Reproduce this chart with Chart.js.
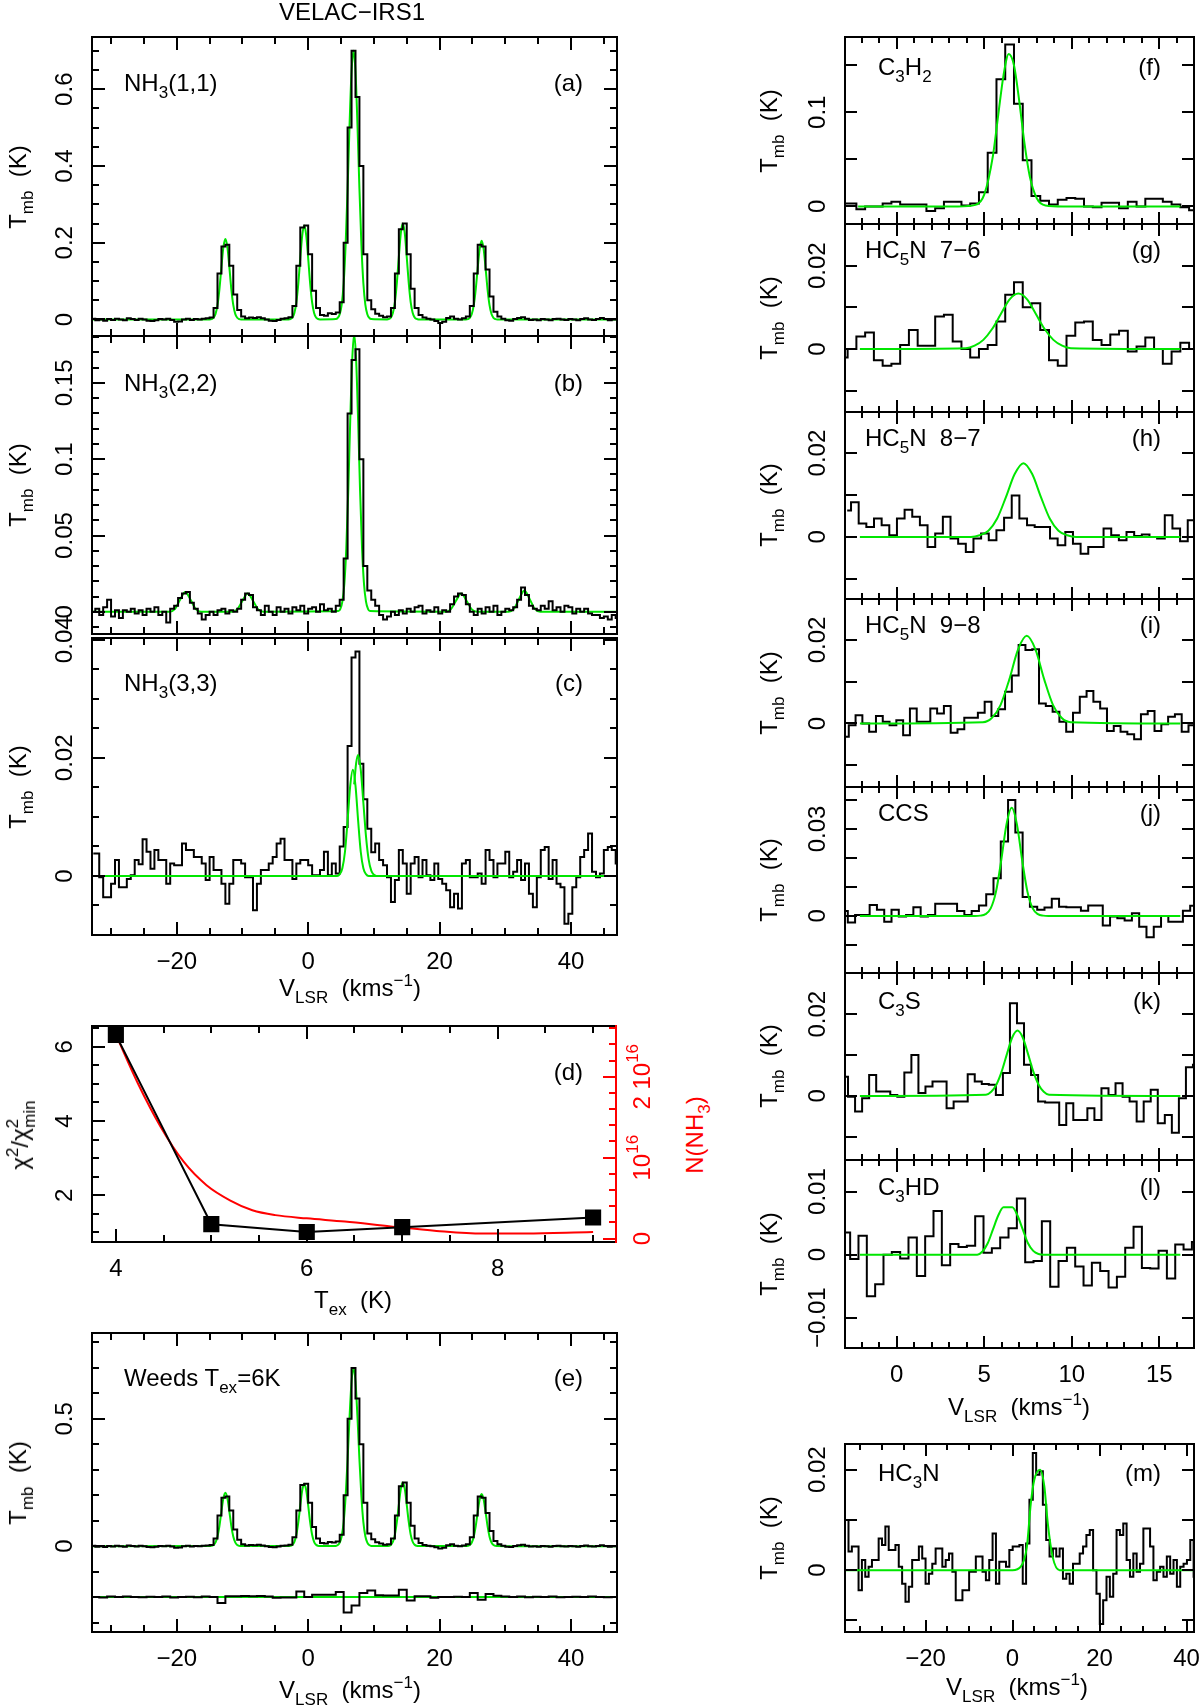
<!DOCTYPE html>
<html><head><meta charset="utf-8">
<script src="https://cdn.jsdelivr.net/npm/chart.js@4.4.1/dist/chart.umd.min.js"></script>
<style>
html,body{margin:0;padding:0;background:#fff;overflow:hidden}
#wrap{position:relative;width:1200px;height:1705px;background:#fff;overflow:hidden}
canvas{position:absolute}
.t{position:absolute;font:24px "Liberation Sans",Arial,sans-serif;line-height:24px;white-space:nowrap;color:#000}
.t sub{font-size:17px;position:relative;top:7px;vertical-align:baseline;line-height:0}
.t sup{font-size:17px;position:relative;top:-10px;vertical-align:baseline;line-height:0}
.L{transform:translate(0,-50%)}
.R{transform:translate(-100%,-50%)}
.C{transform:translate(-50%,-50%)}
.V{transform:translate(-50%,-50%) rotate(-90deg)}
</style></head><body>
<div id="wrap"></div>
<script>
// ---------------- DATA ----------------
// NH3 spectra: channel centres start at NH3_V0 with spacing NH3_DV (km/s)
const NH3_V0 = -32.7, NH3_DV = 0.6;
const nh3_11 = [
0.002,-0.002,0.000,-0.003,0.001,-0.001,0.002,0.000,-0.002,0.003,
0.001,-0.001,0.002,0.000,-0.003,-0.004,-0.002,0.001,0.000,0.002,
-0.001,-0.006,-0.005,0.000,0.002,-0.001,0.001,0.000,0.002,0.003,
0.005,0.030,0.120,0.190,0.195,0.140,0.065,0.025,0.008,0.003,
0.005,0.004,0.006,0.003,0.000,-0.003,-0.004,-0.001,0.002,0.003,
0.006,0.035,0.140,0.240,0.245,0.170,0.075,0.030,0.012,0.010,
0.016,0.014,0.018,0.045,0.200,0.500,0.700,0.580,0.400,0.170,
0.050,0.027,0.015,0.010,0.006,0.008,0.030,0.120,0.235,0.250,
0.170,0.080,0.030,0.012,0.005,0.002,0.000,-0.004,-0.009,-0.006,
0.004,0.008,0.002,0.000,0.003,0.008,0.035,0.120,0.195,0.190,
0.130,0.060,0.020,0.008,0.002,-0.002,-0.003,0.001,0.004,0.006,
0.002,-0.001,0.000,-0.002,0.001,0.000,-0.002,0.001,0.002,0.000,
-0.001,0.001,0.000,-0.002,0.001,0.003,0.000,-0.001,0.001,0.004,
0.001,-0.002,0.000,0.001];
const nh3_11_modelV = [-32.9,
-15.0,-14.7,-14.4,-14.1,-13.8,-13.5,-13.2,-12.9,-12.6,-12.3,-12.0,-11.7,-11.4,-11.1,-10.8,-10.5,-10.2,
-3.0,-2.7,-2.4,-2.1,-1.8,-1.5,-1.2,-0.9,-0.6,-0.3,0.0,0.3,0.6,0.9,1.2,1.5,1.8,
4.2,4.5,4.8,5.1,5.4,5.7,6.0,6.3,6.6,6.9,7.2,7.5,7.8,8.1,8.4,8.7,9.0,9.3,9.6,
12.0,12.3,12.6,12.9,13.2,13.5,13.8,14.1,14.4,14.7,15.0,15.3,15.6,15.9,16.2,16.5,16.8,
24.0,24.3,24.6,24.9,25.2,25.5,25.8,26.1,26.4,26.7,27.0,27.3,27.6,27.9,28.2,28.5,28.8,47.0];
const nh3_11_modelT = [0,
0.0002,0.0011,0.0045,0.0146,0.038,0.080,0.137,0.189,0.21,0.189,0.137,0.080,0.038,0.0146,0.0045,0.0011,0.0002,
0.0003,0.0013,0.0053,0.0171,0.0446,0.094,0.160,0.220,0.245,0.220,0.160,0.094,0.0446,0.0171,0.0053,0.0013,0.0003,
0.0011,0.0042,0.0139,0.039,0.0945,0.195,0.341,0.508,0.646,0.700,0.646,0.508,0.341,0.195,0.0945,0.039,0.0139,0.0042,0.0011,
0.0003,0.0014,0.0054,0.0174,0.0455,0.096,0.163,0.225,0.250,0.225,0.163,0.096,0.0455,0.0174,0.0054,0.0014,0.0003,
0.0002,0.0011,0.0044,0.0143,0.0373,0.0785,0.134,0.184,0.205,0.184,0.134,0.0785,0.0373,0.0143,0.0044,0.0011,0.0002,0];

const nh3_22 = [
0.000,0.002,-0.002,0.003,0.008,-0.003,0.001,-0.004,0.001,0.000,
0.002,-0.001,0.001,-0.002,0.002,0.000,0.003,-0.002,0.000,-0.007,
0.002,0.004,0.009,0.012,0.013,0.006,0.002,-0.001,-0.005,-0.002,
0.000,-0.002,0.001,0.002,-0.001,0.001,0.000,0.002,0.008,0.012,
0.011,0.003,0.001,-0.002,0.004,0.000,-0.002,0.003,0.000,0.002,
-0.001,0.003,0.001,0.004,-0.001,0.002,0.003,0.000,0.005,0.001,
0.002,0.000,0.004,0.008,0.035,0.130,0.165,0.172,0.100,0.030,
0.014,0.008,0.004,-0.002,-0.005,-0.003,0.000,-0.002,0.001,-0.001,
0.002,0.000,0.003,0.004,-0.001,0.001,0.000,0.003,-0.001,0.001,
0.000,0.005,0.010,0.012,0.011,0.005,0.000,-0.002,0.002,-0.001,
0.003,0.000,0.004,-0.002,0.000,0.002,0.001,0.003,0.008,0.016,
0.011,0.004,0.002,0.001,0.004,0.002,0.007,0.001,0.003,0.000,
0.004,0.003,-0.001,0.002,0.000,0.002,-0.001,-0.002,-0.002,-0.004,
-0.003,-0.005,-0.002,-0.004];
const nh3_22_modelV = [-32.9,
-21.1,-20.3,-19.5,-18.7,-17.9,-17.1,-16.3,
-11.6,-10.8,-10.0,-9.2,-8.4,-7.6,-6.8,
4.6,4.9,5.2,5.5,5.8,6.1,6.4,6.7,7.0,7.3,7.6,7.9,8.2,8.5,8.8,9.1,9.4,
20.9,21.7,22.5,23.3,24.1,24.9,25.7,
30.5,31.3,32.1,32.9,33.7,34.5,35.3,47.0];
const nh3_22_modelT = [0,
0.0001,0.0018,0.0079,0.013,0.0079,0.0018,0.0001,
0.0001,0.0016,0.0073,0.012,0.0073,0.0016,0.0001,
0.0005,0.002,0.0067,0.0181,0.0416,0.0791,0.1254,0.165,0.181,0.165,0.1254,0.0791,0.0416,0.0181,0.0067,0.002,0.0005,
0.0001,0.0016,0.0073,0.012,0.0073,0.0016,0.0001,
0.0001,0.0019,0.0085,0.014,0.0085,0.0019,0.0001,0];

const nh3_33 = [
0.0038,0.0038,-0.0002,-0.0036,-0.0036,-0.0013,0.0027,-0.0019,-0.0019,-0.0005,
0.0001,0.0027,0.0020,0.0062,0.0041,0.0012,0.0044,0.0027,0.0027,-0.0013,
0.0021,0.0018,0.0018,0.0055,0.0044,0.0044,0.0032,0.0032,0.0021,-0.0007,
0.0032,0.0010,0.0010,-0.0013,-0.0047,-0.0013,0.0027,0.0027,0.0021,-0.0002,
-0.0002,-0.0058,-0.0013,0.0010,0.0010,0.0021,0.0032,0.0055,0.0063,0.0027,
0.0027,-0.0005,0.0021,0.0027,0.0027,0.0018,0.0001,0.0001,0.0010,0.0041,
0.0001,0.0021,0.0004,0.0050,0.0083,0.0220,0.0370,0.0380,0.0190,0.0130,
0.0080,0.0040,0.0055,0.0027,0.0018,-0.0002,-0.0044,-0.0007,0.0044,0.0021,
-0.0030,0.0021,0.0032,-0.0002,0.0027,0.0001,-0.0007,0.0021,-0.0005,-0.0013,
-0.0024,-0.0053,-0.0030,-0.0055,0.0021,0.0027,-0.0002,-0.0002,0.0004,-0.0013,
0.0044,0.0027,-0.0002,0.0021,0.0021,0.0041,-0.0002,0.0007,0.0027,-0.0007,
0.0021,-0.0030,-0.0053,-0.0002,0.0044,0.0049,-0.0005,0.0027,-0.0013,-0.0019,
-0.0081,-0.0064,-0.0019,-0.0002,0.0032,0.0044,0.0072,0.0007,-0.0002,0.0004,
0.0044,0.0049,0.0044,0.0021];
const nh3_33_model1V = [-32.9,4.4,4.8,5.2,5.6,6.0,6.4,6.8,7.2,7.6,8.0,8.4,8.8,9.2,47.0];
const nh3_33_model1T = [0,0,0.0003,0.0013,0.0041,0.0094,0.0153,0.018,0.0153,0.0094,0.0041,0.0013,0.0003,0,0];
const nh3_33_model2V = [7.0,7.3,7.6,8.0,8.4,8.8,9.2,9.6,10.0,10.4];
const nh3_33_model2T = [0.0155,0.0191,0.0205,0.018,0.0124,0.0067,0.0028,0.0009,0.0002,0];

// panel (d): chi2 ratio and column density vs Tex
const dTex = [4, 5, 6, 7, 9];
const dChiRatio = [6.32, 1.22, 1.01, 1.14, 1.40];
const dCurveTex = [4.0,4.23,4.47,4.71,4.95,5.2,5.43,5.67,6.0,6.4,6.88,7.36,7.84,8.3,8.8,9.0];
const dCurveN16 = [2.52,1.92,1.38,0.95,0.66,0.47,0.35,0.29,0.25,0.21,0.15,0.095,0.062,0.062,0.074,0.082]; // units of 1e16 cm^-2

// panel (e): residual (data - Weeds model), channels from RES_V0 with RES_DV
const RES_V0 = -32.4, RES_DV = 1.2, RES_OFFSET = -0.2;
const weedsResid = [
0.000,-0.002,0.002,0.000,0.002,0.000,-0.001,0.001,0.000,0.002,
-0.002,0.000,0.001,-0.001,0.002,0.000,-0.023,0.003,0.003,0.004,
0.003,0.004,0.002,-0.003,-0.002,-0.002,0.022,0.000,0.009,0.009,
0.009,0.020,-0.060,-0.033,0.016,0.026,0.007,0.006,0.006,0.029,
-0.013,0.003,0.003,-0.003,0.000,0.000,0.001,0.000,0.016,-0.010,
0.012,0.005,0.002,0.000,0.002,-0.001,0.001,0.000,0.002,-0.001,
0.000,0.001,0.000,0.002,0.000,-0.001,0.000];

// right column spectra
const C3H2_V0 = -3.05, C3H2_DV = 0.5;
const c3h2 = [0.003,0.003,-0.003,0.000,0.000,0.003,0.005,0.002,0.002,0.002,
-0.005,-0.002,0.005,0.005,0.001,0.003,0.015,0.057,0.135,0.172,
0.109,0.049,0.011,0.006,0.002,0.007,0.009,0.008,0.000,-0.001,
0.004,0.004,-0.002,0.005,0.000,0.008,0.008,0.005,0.002,-0.001,
-0.004,-0.004];
const c3h2_modelV = [-2.2,3.5,4.5,5.0,5.5,5.8,6.1,6.4,6.7,7.0,7.3,7.6,8.0,8.5,9.5,16.2];
const c3h2_modelT = [0,0,0.0016,0.0125,0.054,0.097,0.139,0.162,0.150,0.112,0.067,0.032,0.0086,0.001,0,0];

const HC5N76_V0 = -3.05, HC5N76_DV = 0.5;
const hc5n76 = [-0.002,0.000,0.003,0.004,-0.0027,-0.004,-0.0035,0.001,0.0046,0.0008,
0.0008,0.0078,0.0082,0.0018,0.000,-0.002,0.000,0.001,0.0066,0.013,
0.016,0.010,0.011,0.0046,-0.0027,-0.004,0.0032,0.0064,0.0066,0.0022,
0.001,0.0035,0.0044,-0.0006,0.0006,0.0028,0.000,-0.0035,-0.0006,0.0015,
0.000,0.000];
const hc5n76_modelV = [-2.1,3.95,4.45,4.95,5.45,5.95,6.45,6.95,7.45,7.95,8.45,8.95,9.45,9.95,16.2];
const hc5n76_modelT = [0,0.0002,0.0008,0.0022,0.0048,0.0084,0.0119,0.0133,0.0119,0.0084,0.0048,0.0022,0.0008,0.0002,0];

const HC5N87_V0 = -2.824, HC5N87_DV = 0.437;
const hc5n87 = [0.0063,0.0083,0.0032,0.0024,0.0044,0.0028,0.0004,0.0044,0.0065,0.0048,
0.0028,-0.0024,0.0008,0.0048,-0.0004,-0.0016,-0.0036,-0.0004,0.0008,-0.0008,
0.0016,0.0046,0.0099,0.0044,0.0028,0.0024,0.0024,-0.0004,-0.0020,0.0012,
-0.0016,-0.0040,-0.0024,-0.0024,0.0020,0.0004,-0.0008,0.0012,0.0002,0.0006,
0.0000,-0.0004,0.0052,0.0020,-0.0010,0.0040,0.0040];
const hc5n87_modelV = [-2.1,4.24,4.74,5.24,5.74,6.24,6.74,7.24,7.74,8.24,8.74,9.24,9.74,10.24,16.2];
const hc5n87_modelT = [0,0,0.0004,0.0015,0.0044,0.0095,0.015,0.0176,0.015,0.0095,0.0044,0.0015,0.0004,0,0];

const HC5N98_V0 = -3.316, HC5N98_DV = 0.388;
const hc5n98 = [-0.0032,-0.0032,-0.0004,0.0020,0.0000,-0.0020,0.0018,0.0004,-0.0004,0.0008,
-0.0028,0.0036,0.0004,0.0004,0.0036,0.0024,0.0042,-0.0022,-0.0014,0.0014,
0.0014,0.0026,0.0052,0.0018,0.0034,0.0076,0.0115,0.0188,0.0176,0.0178,
0.0048,0.0042,0.0028,0.0004,-0.0020,0.0026,0.0064,0.0078,0.0052,0.0036,
-0.0018,-0.0006,-0.0020,-0.0026,-0.0038,0.0022,0.0030,-0.0018,-0.0002,0.0016,
0.0022,-0.0020,-0.0004,-0.0036];
const hc5n98_modelV = [-2.1,4.93,5.43,5.93,6.43,6.93,7.43,7.93,8.43,8.93,9.43,9.93,16.2];
const hc5n98_modelT = [0,0.0003,0.0013,0.0044,0.0105,0.0177,0.021,0.0177,0.0105,0.0044,0.0013,0.0003,0];

const CCS_V0 = -3.414, CCS_DV = 0.416;
const ccs = [0.0017,0.0017,-0.0023,0.0003,0.0003,0.0038,0.0021,-0.0020,0.0021,-0.0002,
0.0003,0.0030,-0.0002,0.0003,0.0042,0.0042,0.0042,0.0017,0.0003,0.0017,
0.0036,0.0075,0.0130,0.0257,0.0400,0.0288,0.0065,0.0032,0.0021,0.0029,
0.0059,0.0032,0.0030,0.0030,0.0018,0.0036,0.0036,-0.0033,-0.0002,-0.0008,
-0.0016,0.0009,-0.0037,-0.0074,-0.0037,0.0000,-0.0020,-0.0020,0.0018,0.0035,
0.0035];
const ccs_modelV = [-2.1,4.47,4.77,5.07,5.37,5.67,5.97,6.27,6.57,6.87,7.17,7.47,7.77,8.07,8.37,8.67,16.2];
const ccs_modelT = [0,0,0.0001,0.0006,0.0026,0.0083,0.0191,0.0315,0.0373,0.0315,0.0191,0.0083,0.0026,0.0006,0.0001,0,0];

const C3S_V0 = -3.38, C3S_DV = 0.402;
const c3s = [0.0047,0.0047,-0.0002,-0.0038,-0.0006,0.0051,0.0011,0.0011,0.0002,-0.0002,
0.0057,0.0100,0.0007,0.0023,0.0035,0.0035,-0.0030,-0.0014,-0.0014,0.0053,
0.0035,0.0029,0.0027,0.0002,0.0056,0.0227,0.0178,0.0076,0.0051,-0.0014,
-0.0016,-0.0016,-0.0071,-0.0018,-0.0059,-0.0059,-0.0030,-0.0059,0.0019,0.0002,
0.0031,-0.0002,-0.0014,-0.0063,-0.0014,0.0015,-0.0067,-0.0047,-0.0090,-0.0006,
0.0070,0.0076];
const c3s_modelV = [-2.1,5.1,5.4,5.7,6.0,6.3,6.6,6.9,7.2,7.5,7.8,8.1,8.4,8.7,16.2];
const c3s_modelT = [0,0.0003,0.001,0.0028,0.006,0.0103,0.0143,0.016,0.0143,0.0103,0.006,0.0028,0.001,0.0003,0];

const C3HD_V0 = -3.37, C3HD_DV = 0.476;
const c3hd = [0.0035,0.0035,-0.0007,0.0030,-0.0066,-0.0047,0.0000,0.0004,-0.0006,0.0027,
-0.0034,0.0029,0.0069,-0.0017,0.0017,0.0012,0.0014,0.0061,0.0003,0.0010,
0.0027,0.0042,0.0089,-0.0012,-0.0010,0.0053,-0.0051,-0.0010,0.0011,-0.0019,
-0.0049,-0.0013,-0.0026,-0.0052,-0.0035,0.0011,0.0044,-0.0021,-0.0022,0.0006,
-0.0038,0.0016,0.0008,0.0020];
const c3hd_modelV = [-2.1,4.6,4.9,5.2,5.5,5.8,6.1,6.6,6.9,7.2,7.5,7.8,8.1,8.4,16.2];
const c3hd_modelT = [0,0,0.0005,0.0018,0.0040,0.0062,0.0075,0.0075,0.0062,0.0040,0.0018,0.0006,0.0001,0,0];

const HC3N_V0 = -38.08, HC3N_DV = 0.77;
const hc3n = [0.0100,0.0037,0.0047,0.0047,-0.0040,0.0020,-0.0013,0.0007,0.0020,0.0020,
0.0063,0.0050,0.0087,0.0040,0.0040,0.0050,0.0007,-0.0027,-0.0063,-0.0033,
0.0020,0.0020,0.0047,0.0023,-0.0027,-0.0007,0.0013,0.0043,0.0043,0.0007,
0.0020,0.0033,-0.0003,-0.0060,-0.0060,-0.0040,-0.0040,-0.0003,-0.0003,0.0027,
0.0027,-0.0003,-0.0020,0.0020,0.0073,-0.0027,0.0017,0.0017,0.0007,0.0040,
0.0047,0.0047,0.0050,-0.0027,0.0053,0.0140,0.0233,0.0190,0.0197,0.0130,
0.0060,0.0027,0.0043,0.0027,0.0043,-0.0017,-0.0007,-0.0027,0.0013,0.0013,
0.0033,0.0047,0.0070,0.0080,0.0000,-0.0047,-0.0107,-0.0060,-0.0013,-0.0053,
-0.0007,0.0080,0.0070,0.0093,0.0020,-0.0013,0.0033,-0.0003,0.0013,0.0083,
0.0083,0.0047,-0.0020,-0.0003,0.0007,-0.0013,0.0027,-0.0007,0.0020,-0.0033,
0.0007,0.0013,0.0020,0.0060,-0.0013];
const hc3n_modelV = [-38.5,0.0,1.9,3.3,4.2,5.0,6.3,7.3,8.1,9.2,10.8,41.7];
const hc3n_modelT = [0,0,0.0007,0.0047,0.0133,0.018,0.020,0.0167,0.0093,0.0027,0,0];

// tick labels
const ticksLeftX = [-20, 0, 20, 40];
const ticksRightX = [0, 5, 10, 15];
const ticksA_Y = [0, 0.2, 0.4, 0.6];
const ticksB_Y = [0, 0.05, 0.1, 0.15];
const ticksC_Y = [0, 0.02, 0.04];
const ticksD_X = [4, 6, 8];
const ticksD_Y = [2, 4, 6];
const ticksD_Y2 = [0, 1, 2];
const ticksD_Y2Text = ['0', '10^{16}', '2 10^{16}'];
const ticksE_Y = [0, 0.5];
const ticksF_Y = [0, 0.1];
const ticks002_Y = [0, 0.02];
const ticksJ_Y = [0, 0.03];
const ticksL_Y = [-0.01, 0, 0.01];

// ---------------- DRAWING ----------------
const GREEN = '#00e600';
const RED = '#ff0000';
const FONT = '"Liberation Sans", Arial, sans-serif';
Chart.defaults.font.family = FONT;

const spec = (v0, dv, vals) => vals.map((t, i) => ({ x: +(v0 + i * dv).toFixed(4), y: t }));
const pairs = (xs, ys) => xs.map((x, i) => ({ x, y: ys[i] }));
const shifted = (pts, off) => pts.map(p => ({ x: p.x, y: p.y + off }));
const blackDs = data => ({ data, borderColor: '#000', borderWidth: 2, pointRadius: 0, stepped: 'middle', fill: false });
const greenDs = data => ({ data, borderColor: GREEN, borderWidth: 2, pointRadius: 0, tension: 0.4, cubicInterpolationMode: 'monotone', fill: false });
const fmt = v => (v < 0 ? '\u2212' : '') + String(+Math.abs(v).toFixed(6));

function tickVals(min, max, step) {
  const out = [];
  for (let k = Math.ceil(min / step - 1e-9); k * step <= max + 1e-9; k++) out.push(+(k * step).toFixed(8));
  return out;
}
const isMajor = (v, m) => Math.abs(v / m - Math.round(v / m)) < 1e-6;

function richText(ctx, s, size) {
  const parts = s.split(/\^\{([^}]*)\}/);
  const big = size + 'px ' + FONT, small = Math.round(size * 0.7) + 'px ' + FONT;
  let w = 0;
  parts.forEach((p, i) => { ctx.font = i % 2 ? small : big; w += ctx.measureText(p).width; });
  let x = -w / 2;
  ctx.textAlign = 'left'; ctx.textBaseline = 'middle';
  parts.forEach((p, i) => {
    ctx.font = i % 2 ? small : big;
    ctx.fillText(p, x, i % 2 ? -size * 0.42 : 0);
    x += ctx.measureText(p).width;
  });
}

function framePlugin(f) {
  return {
    id: 'frame',
    afterDatasetsDraw(chart) {
      const ctx = chart.ctx, a = chart.chartArea;
      const xs = chart.scales.x, ys = chart.scales.y;
      const MAJ = f.maj || 13, MIN = f.min || 7;
      const seg = (x1, y1, x2, y2) => { ctx.beginPath(); ctx.moveTo(x1, y1); ctx.lineTo(x2, y2); ctx.stroke(); };
      ctx.save();
      ctx.lineWidth = 2; ctx.strokeStyle = '#000'; ctx.lineCap = 'square';
      ctx.beginPath();
      ctx.moveTo(a.right, a.top); ctx.lineTo(a.left, a.top); ctx.lineTo(a.left, a.bottom); ctx.lineTo(a.right, a.bottom);
      if (!f.y2) ctx.lineTo(a.right, a.top);
      ctx.stroke();
      ctx.lineCap = 'butt';
      for (const v of tickVals(xs.min, xs.max, f.xMinor)) {
        const p = Math.round(xs.getPixelForValue(v)); const L = isMajor(v, f.xMajor) ? MAJ : MIN;
        seg(p, a.bottom, p, a.bottom - L); seg(p, a.top, p, a.top + L);
      }
      for (const v of tickVals(ys.min, ys.max, f.yMinor)) {
        const p = Math.round(ys.getPixelForValue(v)); const L = isMajor(v, f.yMajor) ? MAJ : MIN;
        seg(a.left, p, a.left + L, p); if (!f.y2) seg(a.right, p, a.right - L, p);
      }
      ctx.fillStyle = '#000';
      ctx.font = '24px ' + FONT;
      if (f.xLabels) {
        ctx.textAlign = 'center'; ctx.textBaseline = 'middle';
        for (const v of f.xLabels) ctx.fillText(fmt(v), xs.getPixelForValue(v), a.bottom + 27);
      }
      if (f.yLabels) {
        for (const v of f.yLabels) {
          ctx.save(); ctx.translate(a.left - 27, ys.getPixelForValue(v)); ctx.rotate(-Math.PI / 2);
          ctx.textAlign = 'center'; ctx.textBaseline = 'middle'; ctx.fillText(fmt(v), 0, 0); ctx.restore();
        }
      }
      if (f.y2) {
        const s = chart.scales.y2;
        ctx.strokeStyle = RED; ctx.fillStyle = RED; ctx.lineCap = 'square';
        seg(a.right, a.top, a.right, a.bottom);
        ctx.lineCap = 'butt';
        for (const v of tickVals(s.min, s.max, f.y2.minor)) {
          const p = Math.round(s.getPixelForValue(v)); const L = isMajor(v, f.y2.major) ? MAJ : MIN;
          seg(a.right, p, a.right - L, p);
        }
        f.y2.labels.forEach((v, i) => {
          ctx.save(); ctx.translate(a.right + 27, s.getPixelForValue(v)); ctx.rotate(-Math.PI / 2);
          richText(ctx, f.y2.text[i], 24); ctx.restore();
        });
      }
      ctx.restore();
    }
  };
}

const PAD = { l: 60, t: 30, r: 60, b: 50 };
function panel(rect, xr, yr, datasets, frame, y2r) {
  const cv = document.createElement('canvas');
  const w = rect[2] - rect[0] + PAD.l + PAD.r, h = rect[3] - rect[1] + PAD.t + PAD.b;
  cv.width = w; cv.height = h;
  cv.style.left = (rect[0] - PAD.l) + 'px'; cv.style.top = (rect[1] - PAD.t) + 'px';
  cv.style.width = w + 'px'; cv.style.height = h + 'px';
  document.getElementById('wrap').appendChild(cv);
  const scales = {
    x: { type: 'linear', min: xr[0], max: xr[1], display: false },
    y: { type: 'linear', min: yr[0], max: yr[1], display: false }
  };
  if (y2r) scales.y2 = { type: 'linear', position: 'right', min: y2r[0], max: y2r[1], display: false };
  return new Chart(cv, {
    type: 'line',
    data: { datasets },
    options: {
      responsive: false, animation: false, events: [], devicePixelRatio: 1,
      layout: { padding: { left: PAD.l, top: PAD.t, right: PAD.r, bottom: PAD.b } },
      plugins: { legend: { display: false }, tooltip: { enabled: false } },
      scales
    },
    plugins: [framePlugin(frame)]
  });
}

const LX = [92, 617], RX = [845, 1194];
const LEFT_XR = [-32.9, 47.0], RIGHT_XR = [-2.95, 16.98], M_XR = [-38.5, 41.7];
const leftX = { xMinor: 5, xMajor: 20 };
const rightX = { xMinor: 1, xMajor: 5, maj: 12, min: 6 };

const nh11 = spec(NH3_V0, NH3_DV, nh3_11);
const nh11Model = pairs(nh3_11_modelV, nh3_11_modelT);

// (a)
panel([LX[0], 37, LX[1], 336], LEFT_XR, [-0.043, 0.736],
  [blackDs(nh11), greenDs(nh11Model)],
  Object.assign({ yMinor: 0.05, yMajor: 0.2, yLabels: ticksA_Y }, leftX));
// (b)
panel([LX[0], 336, LX[1], 634], LEFT_XR, [-0.0145, 0.1807],
  [blackDs(spec(NH3_V0, NH3_DV, nh3_22)), greenDs(pairs(nh3_22_modelV, nh3_22_modelT))],
  Object.assign({ yMinor: 0.01, yMajor: 0.05, yLabels: ticksB_Y }, leftX));
// (c)
panel([LX[0], 638, LX[1], 935], LEFT_XR, [-0.0100, 0.0403],
  [greenDs(pairs(nh3_33_model1V, nh3_33_model1T)), greenDs(pairs(nh3_33_model2V, nh3_33_model2T)), blackDs(spec(NH3_V0, NH3_DV, nh3_33))],
  Object.assign({ yMinor: 0.005, yMajor: 0.02, yLabels: ticksC_Y, xLabels: ticksLeftX }, leftX));
// (d)
panel([92, 1026, 616, 1242], [3.75, 9.24], [0.74, 6.56],
  [
    { data: pairs(dTex, dChiRatio), borderColor: '#000', borderWidth: 2, pointStyle: 'rect', pointRadius: 10,
      pointBackgroundColor: '#000', pointBorderColor: '#000', yAxisID: 'y', fill: false },
    { data: pairs(dCurveTex, dCurveN16), borderColor: RED, borderWidth: 2, pointRadius: 0, tension: 0.4,
      cubicInterpolationMode: 'monotone', yAxisID: 'y2', fill: false }
  ],
  { xMinor: 0.5, xMajor: 2, yMinor: 0.5, yMajor: 2, xLabels: ticksD_X, yLabels: ticksD_Y,
    y2: { minor: 0.2, major: 1, labels: ticksD_Y2, text: ticksD_Y2Text } },
  [-0.042, 2.627]);
// (e)
panel([LX[0], 1333, LX[1], 1632], LEFT_XR, [-0.337, 0.837],
  [blackDs(nh11), greenDs(nh11Model),
   blackDs(shifted(spec(RES_V0, RES_DV, weedsResid), RES_OFFSET)),
   greenDs(pairs([LEFT_XR[0], LEFT_XR[1]], [RES_OFFSET, RES_OFFSET]))],
  Object.assign({ yMinor: 0.1, yMajor: 0.5, yLabels: ticksE_Y, xLabels: ticksLeftX }, leftX));

// right column
const rightPanels = [
  [37, 224, [-0.0187, 0.180], spec(C3H2_V0, C3H2_DV, c3h2), pairs(c3h2_modelV, c3h2_modelT), 0.05, ticksF_Y],
  [224, 412, [-0.0151, 0.030], spec(HC5N76_V0, HC5N76_DV, hc5n76), pairs(hc5n76_modelV, hc5n76_modelT), 0.01, ticks002_Y],
  [412, 599, [-0.0148, 0.0298], spec(HC5N87_V0, HC5N87_DV, hc5n87), pairs(hc5n87_modelV, hc5n87_modelT), 0.01, ticks002_Y],
  [599, 787, [-0.0152, 0.0298], spec(HC5N98_V0, HC5N98_DV, hc5n98), pairs(hc5n98_modelV, hc5n98_modelT), 0.01, ticks002_Y],
  [787, 973, [-0.0197, 0.0445], spec(CCS_V0, CCS_DV, ccs), pairs(ccs_modelV, ccs_modelT), 0.01, ticksJ_Y],
  [973, 1160, [-0.0157, 0.0301], spec(C3S_V0, C3S_DV, c3s), pairs(c3s_modelV, c3s_modelT), 0.01, ticks002_Y],
  [1160, 1348, [-0.0148, 0.0150], spec(C3HD_V0, C3HD_DV, c3hd), pairs(c3hd_modelV, c3hd_modelT), 0.01, ticksL_Y]
];
rightPanels.forEach((p, i) => {
  const fr = Object.assign({ yMinor: p[5], yMajor: p[5], yLabels: p[6] }, rightX);
  if (i === rightPanels.length - 1) fr.xLabels = ticksRightX;
  panel([RX[0], p[0], RX[1], p[1]], RIGHT_XR, p[2], [greenDs(p[4]), blackDs(p[3])], fr);
});
// (m)
panel([RX[0], 1444, RX[1], 1632], M_XR, [-0.0123, 0.0251],
  [greenDs(pairs(hc3n_modelV, hc3n_modelT)), blackDs(spec(HC3N_V0, HC3N_DV, hc3n))],
  { xMinor: 5, xMajor: 20, yMinor: 0.01, yMajor: 0.01, yLabels: ticks002_Y, xLabels: ticksLeftX, maj: 12, min: 6 });

// ---------------- TEXT ----------------
const TXT = [
  ['C', 352, 12, 'VELAC\u2212IRS1'],
  ['L', 124, 83, 'NH<sub>3</sub>(1,1)'], ['R', 583, 83, '(a)'],
  ['L', 124, 383, 'NH<sub>3</sub>(2,2)'], ['R', 583, 383, '(b)'],
  ['L', 124, 683, 'NH<sub>3</sub>(3,3)'], ['R', 583, 683, '(c)'],
  ['R', 583, 1072, '(d)'],
  ['L', 124, 1378, 'Weeds T<sub>ex</sub>=6K'], ['R', 583, 1378, '(e)'],
  ['L', 878, 67, 'C<sub>3</sub>H<sub>2</sub>'], ['R', 1161, 67, '(f)'],
  ['L', 865, 250, 'HC<sub>5</sub>N&nbsp;&nbsp;7\u22126'], ['R', 1161, 250, '(g)'],
  ['L', 865, 438, 'HC<sub>5</sub>N&nbsp;&nbsp;8\u22127'], ['R', 1161, 438, '(h)'],
  ['L', 865, 625, 'HC<sub>5</sub>N&nbsp;&nbsp;9\u22128'], ['R', 1161, 625, '(i)'],
  ['L', 878, 813, 'CCS'], ['R', 1161, 813, '(j)'],
  ['L', 878, 1001, 'C<sub>3</sub>S'], ['R', 1161, 1001, '(k)'],
  ['L', 878, 1187, 'C<sub>3</sub>HD'], ['R', 1161, 1187, '(l)'],
  ['L', 878, 1473, 'HC<sub>3</sub>N'], ['R', 1161, 1473, '(m)'],
  ['C', 350, 988, 'V<sub>LSR</sub>&nbsp;&nbsp;(kms<sup>\u22121</sup>)'],
  ['C', 353, 1300, 'T<sub>ex</sub>&nbsp;&nbsp;(K)'],
  ['C', 350, 1690, 'V<sub>LSR</sub>&nbsp;&nbsp;(kms<sup>\u22121</sup>)'],
  ['C', 1019, 1407, 'V<sub>LSR</sub>&nbsp;&nbsp;(kms<sup>\u22121</sup>)'],
  ['C', 1017, 1687, 'V<sub>LSR</sub>&nbsp;&nbsp;(kms<sup>\u22121</sup>)'],
  ['V', 20, 1135, '\u03c7<sup>2</sup>/\u03c7<sup>2</sup><sub style="margin-left:-9px">min</sub>'],
  ['V', 695, 1135, '<span style="color:#ff0000">N(NH<sub>3</sub>)</span>']
];
const TMB = 'T<sub>mb</sub>&nbsp;&nbsp;(K)';
[[18, 187], [18, 485], [18, 787], [18, 1483]].forEach(p => TXT.push(['V', p[0], p[1], TMB]));
[131, 318, 505, 693, 880, 1066, 1254, 1538].forEach(y => TXT.push(['V', 769, y, TMB]));
const wrap = document.getElementById('wrap');
TXT.forEach(([cls, x, y, html]) => {
  const d = document.createElement('div');
  d.className = 't ' + cls; d.style.left = x + 'px'; d.style.top = y + 'px'; d.innerHTML = html;
  wrap.appendChild(d);
});
</script>
</body></html>
